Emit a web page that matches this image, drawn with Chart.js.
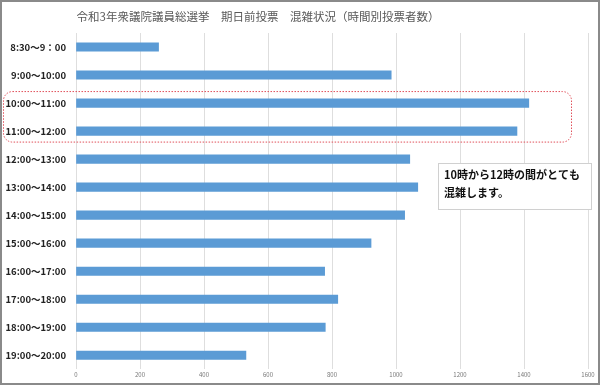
<!DOCTYPE html>
<html lang="ja">
<head>
  <meta charset="UTF-8">
  <title>期日前投票 混雑状況</title>
  <script src="https://cdn.jsdelivr.net/npm/chart.js"></script>
  <style>
    body { margin: 0; background: #fff; }
  </style>
</head>
<body>
  <canvas id="voteChart" width="600" height="385"></canvas>

  <script>
    // 時間帯と投票者数
    const timeSlots = [
      '8:30～9：00', '9:00～10:00', '10:00～11:00', '11:00～12:00',
      '12:00～13:00', '13:00～14:00', '14:00～15:00', '15:00～16:00',
      '16:00～17:00', '17:00～18:00', '18:00～19:00', '19:00～20:00'
    ];
    const voters = [258, 985, 1415, 1378, 1043, 1068, 1027, 922, 777, 818, 779, 531];
    const xMin = 0, xMax = 1600, xStep = 200;

    const titleText = '令和3年衆議院議員総選挙　期日前投票　混雑状況（時間別投票者数）';
    const noteLines = ['10時から12時の間がとても', '混雑します。'];
    const busyRows = [2, 3]; // 赤枠で囲む行

    const JP = '"Noto Sans CJK JP", "Noto Sans", sans-serif';

    // タイトル・枠・コメントを描く
    const decor = {
      id: 'decor',
      afterDraw(chart) {
        const ctx = chart.ctx;
        const y = chart.scales.y;
        ctx.save();

        // タイトル
        ctx.fillStyle = '#595959';
        ctx.font = '11.5px ' + JP;
        ctx.textAlign = 'center';
        ctx.textBaseline = 'middle';
        ctx.fillText(titleText, 258, 17);

        // 混雑時間帯の赤い点線枠
        const top = y.getPixelForValue(busyRows[0]) - 12;
        const bottom = y.getPixelForValue(busyRows[1]) + 10.5;
        ctx.strokeStyle = '#e0505a';
        ctx.lineWidth = 1;
        ctx.setLineDash([1.5, 1.5]);
        ctx.beginPath();
        ctx.roundRect(3.5, top + 0.5, 568, bottom - top, 9);
        ctx.stroke();
        ctx.setLineDash([]);

        // コメント欄
        ctx.fillStyle = '#fff';
        ctx.fillRect(438, 163, 153, 46);
        ctx.strokeStyle = '#d0d0d0';
        ctx.strokeRect(438.5, 163.5, 153, 46);
        ctx.fillStyle = '#111';
        ctx.font = 'bold 11px ' + JP;
        ctx.textAlign = 'left';
        ctx.fillText(noteLines[0], 444, 175);
        ctx.fillText(noteLines[1], 444, 193);

        // 外枠
        ctx.strokeStyle = '#8a8a8a';
        ctx.lineWidth = 2;
        ctx.strokeRect(1, 1, 598, 383);
        ctx.restore();
      }
    };

    new Chart(document.getElementById('voteChart'), {
      type: 'bar',
      data: {
        labels: timeSlots,
        datasets: [{
          data: voters,
          backgroundColor: '#5b9bd5',
          barThickness: 8.5
        }]
      },
      options: {
        indexAxis: 'y',
        responsive: false,
        animation: false,
        layout: { padding: { top: 33, right: 12, bottom: 0, left: 0 } },
        plugins: {
          legend: { display: false },
          tooltip: { enabled: false }
        },
        scales: {
          x: {
            min: xMin,
            max: xMax,
            ticks: {
              stepSize: xStep,
              color: '#777',
              font: { size: 6, family: JP },
              padding: 2,
              callback: (v) => String(v)
            },
            grid: { color: '#dedede', drawTicks: false },
            border: { display: false },
            afterFit: (s) => { s.height = 14; }
          },
          y: {
            ticks: {
              color: '#222',
              font: { size: 9.5, weight: 'bold', family: JP },
              padding: 10
            },
            grid: { display: false, drawTicks: false },
            border: { display: false },
            afterFit: (s) => { s.width = 76; }
          }
        }
      },
      plugins: [decor]
    });
  </script>
</body>
</html>
